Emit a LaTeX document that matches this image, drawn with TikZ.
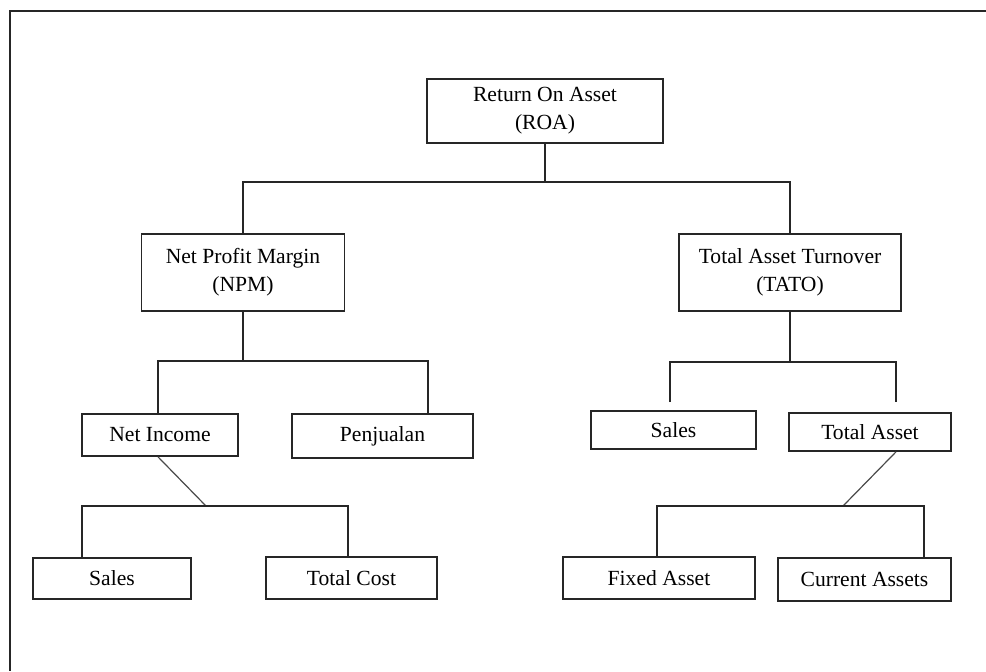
\documentclass[tikz,border=0pt]{standalone}
\usepackage{fontspec}
\setmainfont{Liberation Serif}
\definecolor{boxline}{HTML}{262626}
\definecolor{diagline}{HTML}{4A4A4A}

\begin{document}
\begin{tikzpicture}[x=0.5pt,y=-0.5pt,font=\fontsize{10.8}{14}\selectfont,
  box/.style={draw=boxline,line width=.85pt,inner sep=0pt,align=center},
  link/.style={draw=boxline,line width=.75pt},
  slant/.style={draw=diagline,line width=.6pt}]
\useasboundingbox (0,0) rectangle (986,671);
\draw[black!85,line width=1.1pt] (986,11) -- (10,11) -- (10,671);
\node[box,minimum width=118pt,minimum height=32pt] (roa) at (545,111) {Return On Asset\\(ROA)};
\node[box,minimum width=101.5pt,minimum height=38.5pt] (npm) at (243,272.5) {Net Profit Margin\\(NPM)};
\node[box,minimum width=111pt,minimum height=38.5pt] (tato) at (790,272.5) {Total Asset Turnover\\(TATO)};
\node[box,minimum width=78pt,minimum height=21pt] (netinc) at (160,435) {Net Income};
\node[box,minimum width=90.5pt,minimum height=22pt] (penj) at (382.5,436) {Penjualan};
\node[box,minimum width=82.5pt,minimum height=19pt] (salesta) at (673.5,430) {Sales};
\node[box,minimum width=81pt,minimum height=19pt] (totasset) at (870,432) {Total Asset};
\node[box,minimum width=79pt,minimum height=20.5pt] (salesni) at (112,578.5) {Sales};
\node[box,minimum width=85.5pt,minimum height=21pt] (totcost) at (351.5,578) {Total Cost};
\node[box,minimum width=96pt,minimum height=21pt] (fixed) at (659,578) {Fixed Asset};
\node[box,minimum width=86.5pt,minimum height=21.5pt] (current) at (864.5,579.5) {Current Assets};
\coordinate (roabus) at (545,182);
\coordinate (npmbus) at (243,361);
\coordinate (tatobus) at (790,362);
\coordinate (nibus) at (206,506);
\coordinate (tabus) at (843,506);
\draw[link] (roa.south) -- (roabus);
\draw[link] (npm.north) |- (roabus) -| (tato.north);
\draw[link] (npm.south) -- (npmbus);
\draw[link] ([xshift=-1pt]netinc.north) |- (npmbus) -| ([xshift=22.75pt]penj.north);
\draw[link] (tato.south) -- (tatobus);
\draw[link] ([xshift=-1.75pt,yshift=4pt]salesta.north) |- (tatobus) -| ([xshift=13pt,yshift=5pt]totasset.north);
\draw[slant] ([xshift=-1pt]netinc.south) -- (nibus);
\draw[link] ([xshift=-15pt]salesni.north) |- (nibus) -| ([xshift=-1.75pt]totcost.north);
\draw[slant] ([xshift=13pt]totasset.south) -- (tabus);
\draw[link] ([xshift=-1pt]fixed.north) |- (tabus) -| ([xshift=29.75pt]current.north);
\end{tikzpicture}
\end{document}
